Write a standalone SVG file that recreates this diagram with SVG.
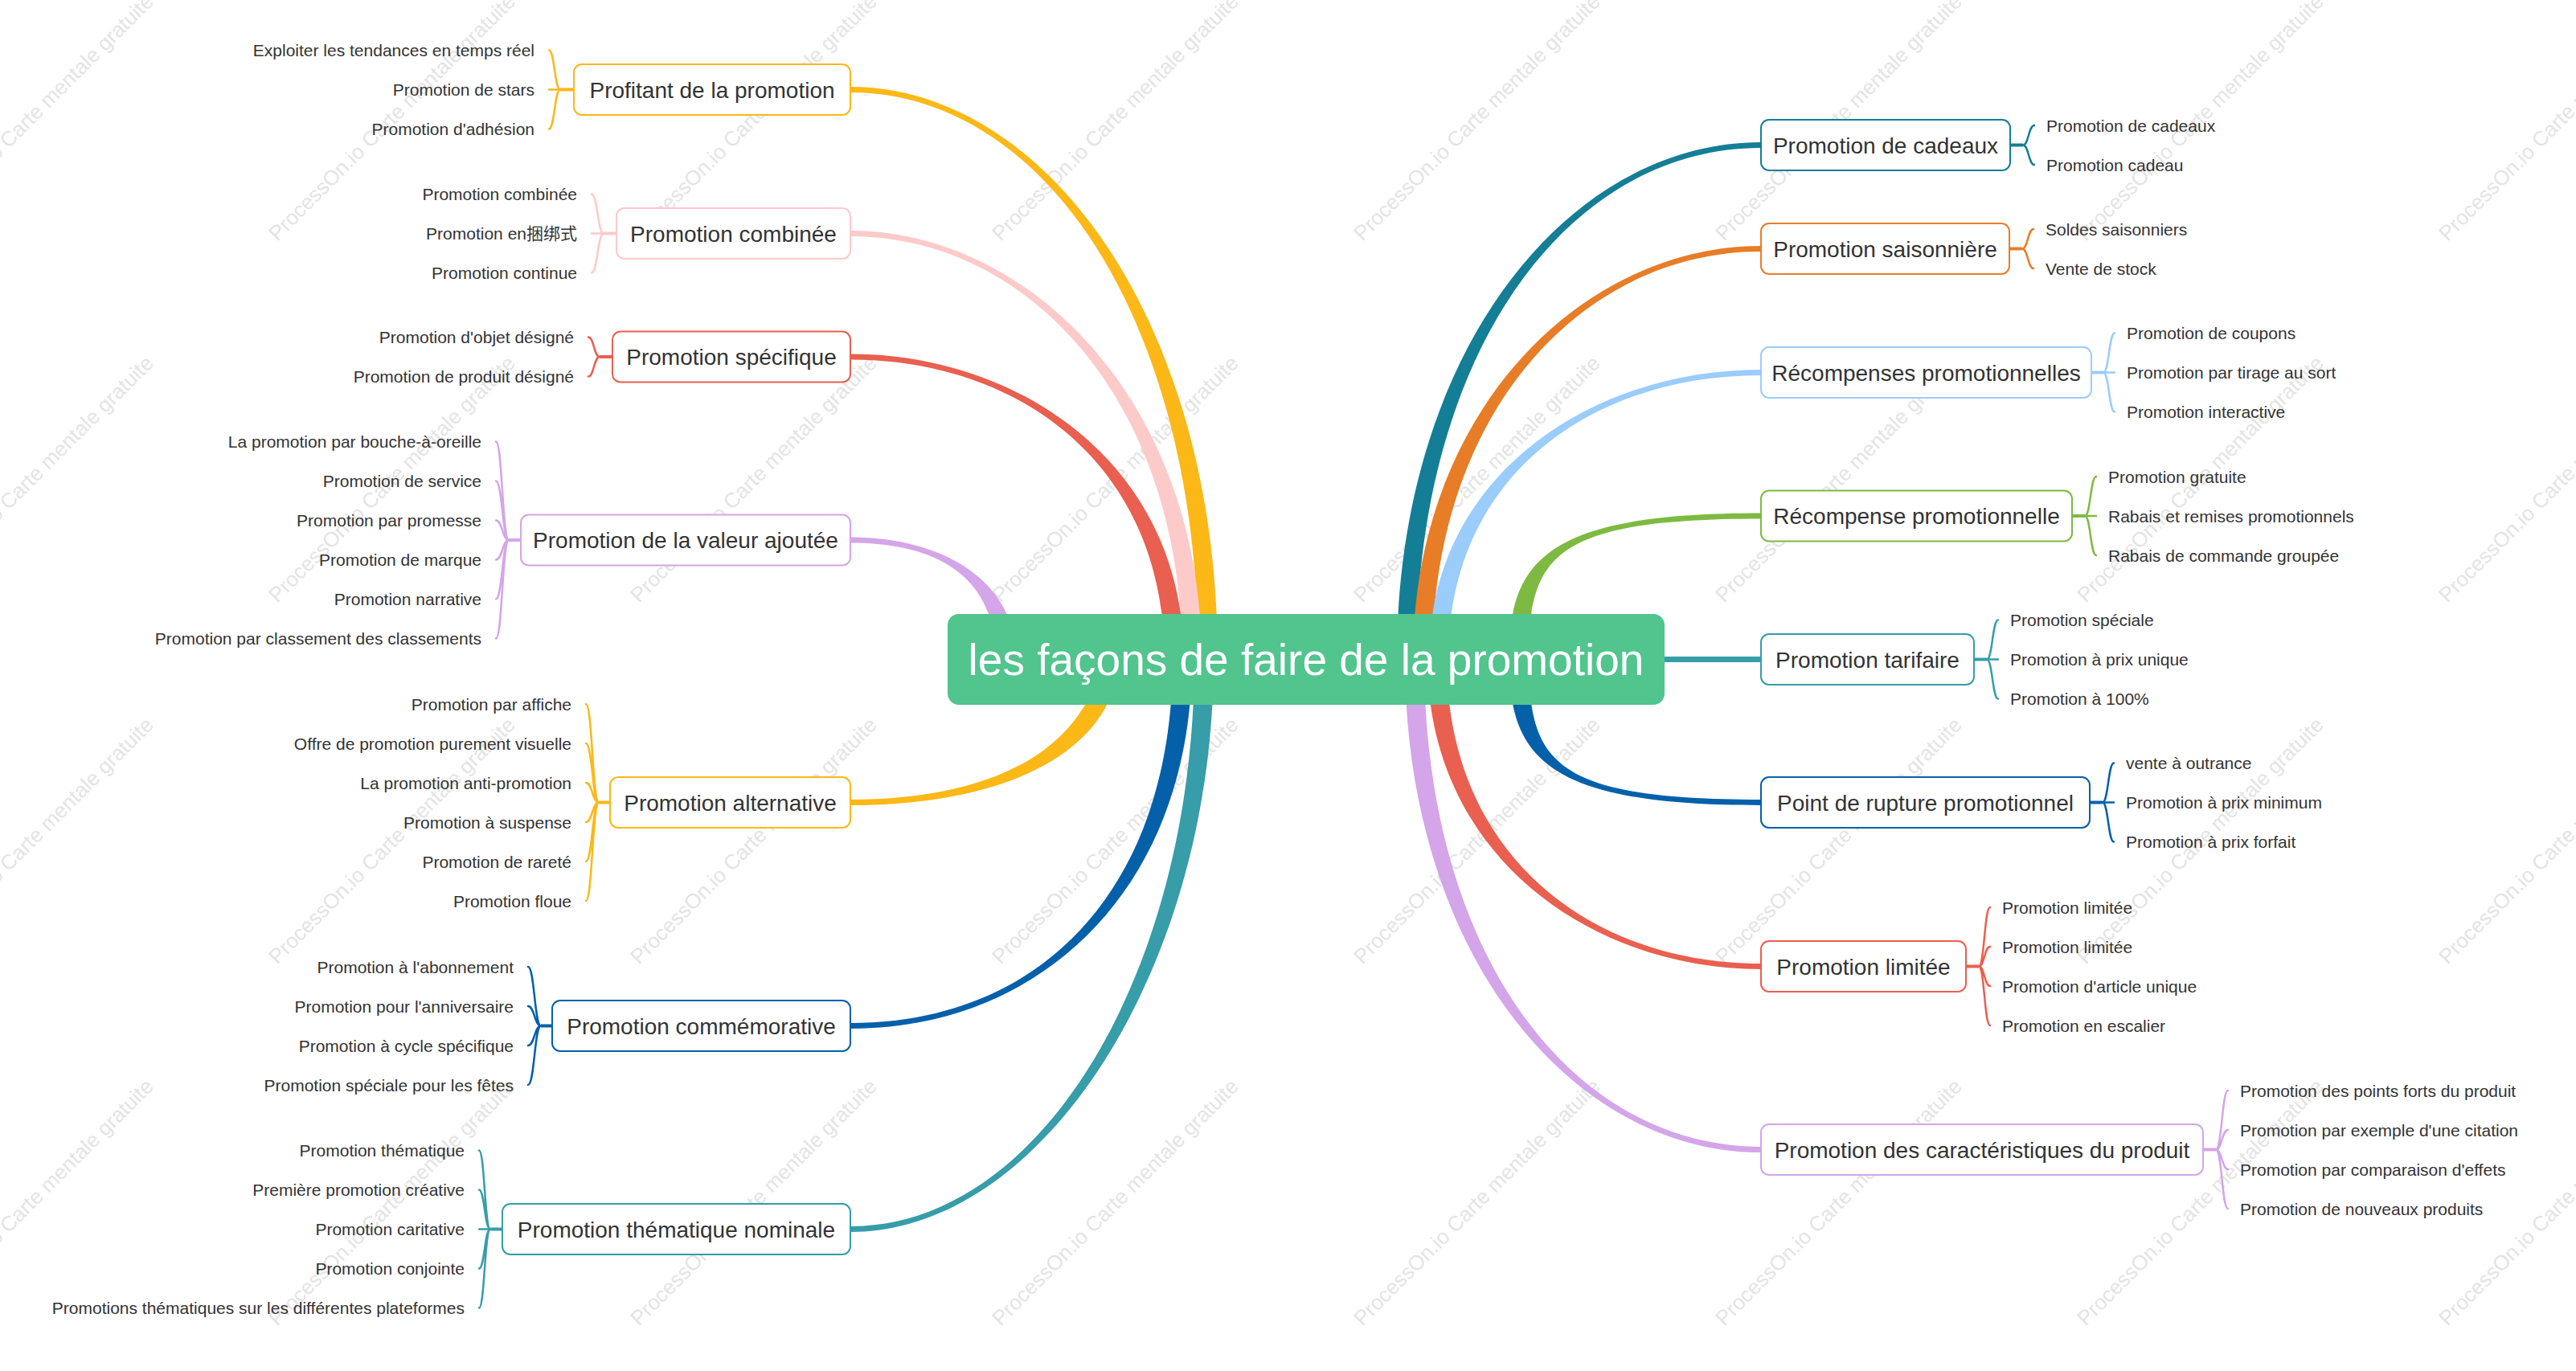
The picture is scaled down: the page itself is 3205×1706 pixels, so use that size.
<svg xmlns="http://www.w3.org/2000/svg" width="3205" height="1706" viewBox="0 0 3205 1706">
<style>
.wm{font:26px "Liberation Sans",sans-serif;fill:#e4e4e4}
.box{fill:#fff;stroke-width:2}
.t1{font:28px "Liberation Sans","Noto Sans CJK SC",sans-serif;fill:#333;text-anchor:middle}
.lf{font:21px "Liberation Sans","Noto Sans CJK SC",sans-serif;fill:#333}
.e{text-anchor:end}
.br{fill:none;stroke-width:2.5;stroke-linecap:round}
.st{fill:none;stroke-width:4}
.yel{stroke:#FBB817}.pnk{stroke:#FDCACA}.red{stroke:#E95F50}.pur{stroke:#D4A5E8}.blu{stroke:#0560AA}.tea{stroke:#369DA9}.dtl{stroke:#147E97}.ora{stroke:#E87D27}.lbl{stroke:#9ACCFC}.grn{stroke:#7EBA42}
</style>
<g id="watermark">
<text class="wm" x="-105" y="301" transform="rotate(-45 -105 301)">ProcessOn.io Carte mentale gratuite</text>
<text class="wm" x="345" y="301" transform="rotate(-45 345 301)">ProcessOn.io Carte mentale gratuite</text>
<text class="wm" x="795" y="301" transform="rotate(-45 795 301)">ProcessOn.io Carte mentale gratuite</text>
<text class="wm" x="1245" y="301" transform="rotate(-45 1245 301)">ProcessOn.io Carte mentale gratuite</text>
<text class="wm" x="1695" y="301" transform="rotate(-45 1695 301)">ProcessOn.io Carte mentale gratuite</text>
<text class="wm" x="2145" y="301" transform="rotate(-45 2145 301)">ProcessOn.io Carte mentale gratuite</text>
<text class="wm" x="2595" y="301" transform="rotate(-45 2595 301)">ProcessOn.io Carte mentale gratuite</text>
<text class="wm" x="3045" y="301" transform="rotate(-45 3045 301)">ProcessOn.io Carte mentale gratuite</text>
<text class="wm" x="-105" y="751" transform="rotate(-45 -105 751)">ProcessOn.io Carte mentale gratuite</text>
<text class="wm" x="345" y="751" transform="rotate(-45 345 751)">ProcessOn.io Carte mentale gratuite</text>
<text class="wm" x="795" y="751" transform="rotate(-45 795 751)">ProcessOn.io Carte mentale gratuite</text>
<text class="wm" x="1245" y="751" transform="rotate(-45 1245 751)">ProcessOn.io Carte mentale gratuite</text>
<text class="wm" x="1695" y="751" transform="rotate(-45 1695 751)">ProcessOn.io Carte mentale gratuite</text>
<text class="wm" x="2145" y="751" transform="rotate(-45 2145 751)">ProcessOn.io Carte mentale gratuite</text>
<text class="wm" x="2595" y="751" transform="rotate(-45 2595 751)">ProcessOn.io Carte mentale gratuite</text>
<text class="wm" x="3045" y="751" transform="rotate(-45 3045 751)">ProcessOn.io Carte mentale gratuite</text>
<text class="wm" x="-105" y="1201" transform="rotate(-45 -105 1201)">ProcessOn.io Carte mentale gratuite</text>
<text class="wm" x="345" y="1201" transform="rotate(-45 345 1201)">ProcessOn.io Carte mentale gratuite</text>
<text class="wm" x="795" y="1201" transform="rotate(-45 795 1201)">ProcessOn.io Carte mentale gratuite</text>
<text class="wm" x="1245" y="1201" transform="rotate(-45 1245 1201)">ProcessOn.io Carte mentale gratuite</text>
<text class="wm" x="1695" y="1201" transform="rotate(-45 1695 1201)">ProcessOn.io Carte mentale gratuite</text>
<text class="wm" x="2145" y="1201" transform="rotate(-45 2145 1201)">ProcessOn.io Carte mentale gratuite</text>
<text class="wm" x="2595" y="1201" transform="rotate(-45 2595 1201)">ProcessOn.io Carte mentale gratuite</text>
<text class="wm" x="3045" y="1201" transform="rotate(-45 3045 1201)">ProcessOn.io Carte mentale gratuite</text>
<text class="wm" x="-105" y="1651" transform="rotate(-45 -105 1651)">ProcessOn.io Carte mentale gratuite</text>
<text class="wm" x="345" y="1651" transform="rotate(-45 345 1651)">ProcessOn.io Carte mentale gratuite</text>
<text class="wm" x="795" y="1651" transform="rotate(-45 795 1651)">ProcessOn.io Carte mentale gratuite</text>
<text class="wm" x="1245" y="1651" transform="rotate(-45 1245 1651)">ProcessOn.io Carte mentale gratuite</text>
<text class="wm" x="1695" y="1651" transform="rotate(-45 1695 1651)">ProcessOn.io Carte mentale gratuite</text>
<text class="wm" x="2145" y="1651" transform="rotate(-45 2145 1651)">ProcessOn.io Carte mentale gratuite</text>
<text class="wm" x="2595" y="1651" transform="rotate(-45 2595 1651)">ProcessOn.io Carte mentale gratuite</text>
<text class="wm" x="3045" y="1651" transform="rotate(-45 3045 1651)">ProcessOn.io Carte mentale gratuite</text>
</g>
<g id="connectors">
<path fill="#FBB817" d="M1515,820C1515,400 1300,108 1058,108L1058,115C1300,115 1491,400 1491,820Z"/>
<path fill="#FDCACA" d="M1495,820C1495,500 1280,287 1058,287L1058,294C1280,294 1471,500 1471,820Z"/>
<path fill="#E95F50" d="M1473,820C1473,580 1270,440.5 1058,440.5L1058,447.5C1270,447.5 1449,580 1449,820Z"/>
<path fill="#D4A5E8" d="M1262,800C1254,720 1170,668.5 1058,668.5L1058,675.5C1170,675.5 1230,720 1238,800Z"/>
<path fill="#FBB817" d="M1361,855C1319,955 1200,995 1058,995L1058,1002C1200,1002 1341,965 1383,865Z"/>
<path fill="#0560AA" d="M1459,820C1459,1100 1300,1273 1058,1273L1058,1280C1300,1280 1483,1100 1483,820Z"/>
<path fill="#369DA9" d="M1486,820C1486,1200 1300,1526 1058,1526L1058,1533C1300,1533 1510,1200 1510,820Z"/>
<path fill="#147E97" d="M1762,820C1762,440 1949,184 2191,184L2191,177C1949,177 1738,440 1738,820Z"/>
<path fill="#E87D27" d="M1782,820C1782,512 1969,313 2191,313L2191,306C1969,306 1758,512 1758,820Z"/>
<path fill="#9ACCFC" d="M1802,820C1802,593 1979,467 2191,467L2191,460C1979,460 1778,593 1778,820Z"/>
<path fill="#7EBA42" d="M1902,800C1907,690 1940,645.5 2191,645.5L2191,638.5C1940,638.5 1883,690 1878,800Z"/>
<rect fill="#369DA9" x="2060" y="817" width="131" height="7"/>
<path fill="#0560AA" d="M1878,840C1883,950 1940,1002 2191,1002L2191,995C1940,995 1907,950 1902,840Z"/>
<path fill="#E95F50" d="M1776,820C1776,1064 1979,1206 2191,1206L2191,1199C1979,1199 1800,1064 1800,820Z"/>
<path fill="#D4A5E8" d="M1748,820C1748,1187 1956,1434 2191,1434L2191,1427C1956,1427 1772,1187 1772,820Z"/>
<path class="st yel" d="M714,111.5H697"/>
<path class="br yel" d="M697,111.5C690,111.5 690,62.5 683,62.5M697,111.5H683M697,111.5C690,111.5 690,160.5 683,160.5"/>
<path class="st pnk" d="M767,290.5H751"/>
<path class="br pnk" d="M751,290.5C743.5,290.5 743.5,241.5 736,241.5M751,290.5H736M751,290.5C743.5,290.5 743.5,339.5 736,339.5"/>
<path class="st red" d="M762,444H746"/>
<path class="br red" d="M746,444C739,444 739,419.5 732,419.5M746,444C739,444 739,468.5 732,468.5"/>
<path class="st pur" d="M648,672H633"/>
<path class="br pur" d="M633,672C625,672 625,549.5 617,549.5M633,672C625,672 625,598.5 617,598.5M633,672C625,672 625,647.5 617,647.5M633,672C625,672 625,696.5 617,696.5M633,672C625,672 625,745.5 617,745.5M633,672C625,672 625,794.5 617,794.5"/>
<path class="st yel" d="M759,998.5H745"/>
<path class="br yel" d="M745,998.5C737,998.5 737,876 729,876M745,998.5C737,998.5 737,925 729,925M745,998.5C737,998.5 737,974 729,974M745,998.5C737,998.5 737,1023 729,1023M745,998.5C737,998.5 737,1072 729,1072M745,998.5C737,998.5 737,1121 729,1121"/>
<path class="st blu" d="M687,1276.5H673"/>
<path class="br blu" d="M673,1276.5C665,1276.5 665,1203 657,1203M673,1276.5C665,1276.5 665,1252 657,1252M673,1276.5C665,1276.5 665,1301 657,1301M673,1276.5C665,1276.5 665,1350 657,1350"/>
<path class="st tea" d="M625,1529.5H610"/>
<path class="br tea" d="M610,1529.5C603,1529.5 603,1431.5 596,1431.5M610,1529.5C603,1529.5 603,1480.5 596,1480.5M610,1529.5H596M610,1529.5C603,1529.5 603,1578.5 596,1578.5M610,1529.5C603,1529.5 603,1627.5 596,1627.5"/>
<path class="st dtl" d="M2501,180.5H2517"/>
<path class="br dtl" d="M2517,180.5C2524,180.5 2524,156 2531,156M2517,180.5C2524,180.5 2524,205 2531,205"/>
<path class="st ora" d="M2500,309.5H2516"/>
<path class="br ora" d="M2516,309.5C2523,309.5 2523,285 2530,285M2516,309.5C2523,309.5 2523,334 2530,334"/>
<path class="st lbl" d="M2602,463.5H2617"/>
<path class="br lbl" d="M2617,463.5C2624,463.5 2624,414.5 2631,414.5M2617,463.5H2631M2617,463.5C2624,463.5 2624,512.5 2631,512.5"/>
<path class="st grn" d="M2578,642H2594"/>
<path class="br grn" d="M2594,642C2601,642 2601,593 2608,593M2594,642H2608M2594,642C2601,642 2601,691 2608,691"/>
<path class="st tea" d="M2456,820.5H2472"/>
<path class="br tea" d="M2472,820.5C2479,820.5 2479,771.5 2486,771.5M2472,820.5H2486M2472,820.5C2479,820.5 2479,869.5 2486,869.5"/>
<path class="st blu" d="M2600,998.5H2616"/>
<path class="br blu" d="M2616,998.5C2623,998.5 2623,949.5 2630,949.5M2616,998.5H2630M2616,998.5C2623,998.5 2623,1047.5 2630,1047.5"/>
<path class="st red" d="M2446,1202.5H2462"/>
<path class="br red" d="M2462,1202.5C2469,1202.5 2469,1129 2476,1129M2462,1202.5C2469,1202.5 2469,1178 2476,1178M2462,1202.5C2469,1202.5 2469,1227 2476,1227M2462,1202.5C2469,1202.5 2469,1276 2476,1276"/>
<path class="st pur" d="M2741,1430.5H2757"/>
<path class="br pur" d="M2757,1430.5C2764.5,1430.5 2764.5,1357 2772,1357M2757,1430.5C2764.5,1430.5 2764.5,1406 2772,1406M2757,1430.5C2764.5,1430.5 2764.5,1455 2772,1455M2757,1430.5C2764.5,1430.5 2764.5,1504 2772,1504"/>
</g>
<g id="root">
<rect x="1179" y="764" width="892" height="113" rx="14" fill="#52C48E"/>
<text x="1625" y="840" font-family="Liberation Sans, sans-serif" font-size="55" fill="#fff" text-anchor="middle">les façons de faire de la promotion</text>
</g>
<g id="n-profitant"><rect class="box yel" x="714" y="80" width="344" height="63" rx="10"/><text class="t1" x="886" y="121.5">Profitant de la promotion</text></g>
<g id="n-combinee"><rect class="box pnk" x="767" y="259" width="291" height="63" rx="10"/><text class="t1" x="912.5" y="300.5">Promotion combinée</text></g>
<g id="n-specifique"><rect class="box red" x="762" y="412.5" width="296" height="63" rx="10"/><text class="t1" x="910" y="454">Promotion spécifique</text></g>
<g id="n-valeur"><rect class="box pur" x="648" y="640.5" width="410" height="63" rx="10"/><text class="t1" x="853" y="682">Promotion de la valeur ajoutée</text></g>
<g id="n-alternative"><rect class="box yel" x="759" y="967" width="299" height="63" rx="10"/><text class="t1" x="908.5" y="1008.5">Promotion alternative</text></g>
<g id="n-commemorative"><rect class="box blu" x="687" y="1245" width="371" height="63" rx="10"/><text class="t1" x="872.5" y="1286.5">Promotion commémorative</text></g>
<g id="n-thematique"><rect class="box tea" x="625" y="1498" width="433" height="63" rx="10"/><text class="t1" x="841.5" y="1539.5">Promotion thématique nominale</text></g>
<g id="n-cadeaux"><rect class="box dtl" x="2191" y="149" width="310" height="63" rx="10"/><text class="t1" x="2346" y="190.5">Promotion de cadeaux</text></g>
<g id="n-saisonniere"><rect class="box ora" x="2191" y="278" width="309" height="63" rx="10"/><text class="t1" x="2345.5" y="319.5">Promotion saisonnière</text></g>
<g id="n-recompenses"><rect class="box lbl" x="2191" y="432" width="411" height="63" rx="10"/><text class="t1" x="2396.5" y="473.5">Récompenses promotionnelles</text></g>
<g id="n-recompense"><rect class="box grn" x="2191" y="610.5" width="387" height="63" rx="10"/><text class="t1" x="2384.5" y="652">Récompense promotionnelle</text></g>
<g id="n-tarifaire"><rect class="box tea" x="2191" y="789" width="265" height="63" rx="10"/><text class="t1" x="2323.5" y="830.5">Promotion tarifaire</text></g>
<g id="n-rupture"><rect class="box blu" x="2191" y="967" width="409" height="63" rx="10"/><text class="t1" x="2395.5" y="1008.5">Point de rupture promotionnel</text></g>
<g id="n-limitee"><rect class="box red" x="2191" y="1171" width="255" height="63" rx="10"/><text class="t1" x="2318.5" y="1212.5">Promotion limitée</text></g>
<g id="n-caracteristiques"><rect class="box pur" x="2191" y="1399" width="550" height="63" rx="10"/><text class="t1" x="2466" y="1440.5">Promotion des caractéristiques du produit</text></g>
<g id="leaves-left">
<g id="l1-1"><text class="lf e" x="665" y="70">Exploiter les tendances en temps réel</text></g>
<g id="l1-2"><text class="lf e" x="665" y="119">Promotion de stars</text></g>
<g id="l1-3"><text class="lf e" x="665" y="168">Promotion d'adhésion</text></g>
<g id="l2-1"><text class="lf e" x="718" y="249">Promotion combinée</text></g>
<g id="l2-2"><text class="lf e" x="718" y="298">Promotion en捆绑式</text></g>
<g id="l2-3"><text class="lf e" x="718" y="347">Promotion continue</text></g>
<g id="l3-1"><text class="lf e" x="714" y="427">Promotion d'objet désigné</text></g>
<g id="l3-2"><text class="lf e" x="714" y="476">Promotion de produit désigné</text></g>
<g id="l4-1"><text class="lf e" x="599" y="557">La promotion par bouche-à-oreille</text></g>
<g id="l4-2"><text class="lf e" x="599" y="606">Promotion de service</text></g>
<g id="l4-3"><text class="lf e" x="599" y="655">Promotion par promesse</text></g>
<g id="l4-4"><text class="lf e" x="599" y="704">Promotion de marque</text></g>
<g id="l4-5"><text class="lf e" x="599" y="753">Promotion narrative</text></g>
<g id="l4-6"><text class="lf e" x="599" y="802">Promotion par classement des classements</text></g>
<g id="l5-1"><text class="lf e" x="711" y="883.5">Promotion par affiche</text></g>
<g id="l5-2"><text class="lf e" x="711" y="932.5">Offre de promotion purement visuelle</text></g>
<g id="l5-3"><text class="lf e" x="711" y="981.5">La promotion anti-promotion</text></g>
<g id="l5-4"><text class="lf e" x="711" y="1030.5">Promotion à suspense</text></g>
<g id="l5-5"><text class="lf e" x="711" y="1079.5">Promotion de rareté</text></g>
<g id="l5-6"><text class="lf e" x="711" y="1128.5">Promotion floue</text></g>
<g id="l6-1"><text class="lf e" x="639" y="1210.5">Promotion à l'abonnement</text></g>
<g id="l6-2"><text class="lf e" x="639" y="1259.5">Promotion pour l'anniversaire</text></g>
<g id="l6-3"><text class="lf e" x="639" y="1308.5">Promotion à cycle spécifique</text></g>
<g id="l6-4"><text class="lf e" x="639" y="1357.5">Promotion spéciale pour les fêtes</text></g>
<g id="l7-1"><text class="lf e" x="578" y="1439">Promotion thématique</text></g>
<g id="l7-2"><text class="lf e" x="578" y="1488">Première promotion créative</text></g>
<g id="l7-3"><text class="lf e" x="578" y="1537">Promotion caritative</text></g>
<g id="l7-4"><text class="lf e" x="578" y="1586">Promotion conjointe</text></g>
<g id="l7-5"><text class="lf e" x="578" y="1635">Promotions thématiques sur les différentes plateformes</text></g>
</g>
<g id="leaves-right">
<g id="r1-1"><text class="lf" x="2546" y="163.5">Promotion de cadeaux</text></g>
<g id="r1-2"><text class="lf" x="2546" y="212.5">Promotion cadeau</text></g>
<g id="r2-1"><text class="lf" x="2545" y="292.5">Soldes saisonniers</text></g>
<g id="r2-2"><text class="lf" x="2545" y="341.5">Vente de stock</text></g>
<g id="r3-1"><text class="lf" x="2646" y="422">Promotion de coupons</text></g>
<g id="r3-2"><text class="lf" x="2646" y="471">Promotion par tirage au sort</text></g>
<g id="r3-3"><text class="lf" x="2646" y="520">Promotion interactive</text></g>
<g id="r4-1"><text class="lf" x="2623" y="600.5">Promotion gratuite</text></g>
<g id="r4-2"><text class="lf" x="2623" y="649.5">Rabais et remises promotionnels</text></g>
<g id="r4-3"><text class="lf" x="2623" y="698.5">Rabais de commande groupée</text></g>
<g id="r5-1"><text class="lf" x="2501" y="779">Promotion spéciale</text></g>
<g id="r5-2"><text class="lf" x="2501" y="828">Promotion à prix unique</text></g>
<g id="r5-3"><text class="lf" x="2501" y="877">Promotion à 100%</text></g>
<g id="r6-1"><text class="lf" x="2645" y="957">vente à outrance</text></g>
<g id="r6-2"><text class="lf" x="2645" y="1006">Promotion à prix minimum</text></g>
<g id="r6-3"><text class="lf" x="2645" y="1055">Promotion à prix forfait</text></g>
<g id="r7-1"><text class="lf" x="2491" y="1136.5">Promotion limitée</text></g>
<g id="r7-2"><text class="lf" x="2491" y="1185.5">Promotion limitée</text></g>
<g id="r7-3"><text class="lf" x="2491" y="1234.5">Promotion d'article unique</text></g>
<g id="r7-4"><text class="lf" x="2491" y="1283.5">Promotion en escalier</text></g>
<g id="r8-1"><text class="lf" x="2787" y="1364.5">Promotion des points forts du produit</text></g>
<g id="r8-2"><text class="lf" x="2787" y="1413.5">Promotion par exemple d'une citation</text></g>
<g id="r8-3"><text class="lf" x="2787" y="1462.5">Promotion par comparaison d'effets</text></g>
<g id="r8-4"><text class="lf" x="2787" y="1511.5">Promotion de nouveaux produits</text></g>
</g>
</svg>
